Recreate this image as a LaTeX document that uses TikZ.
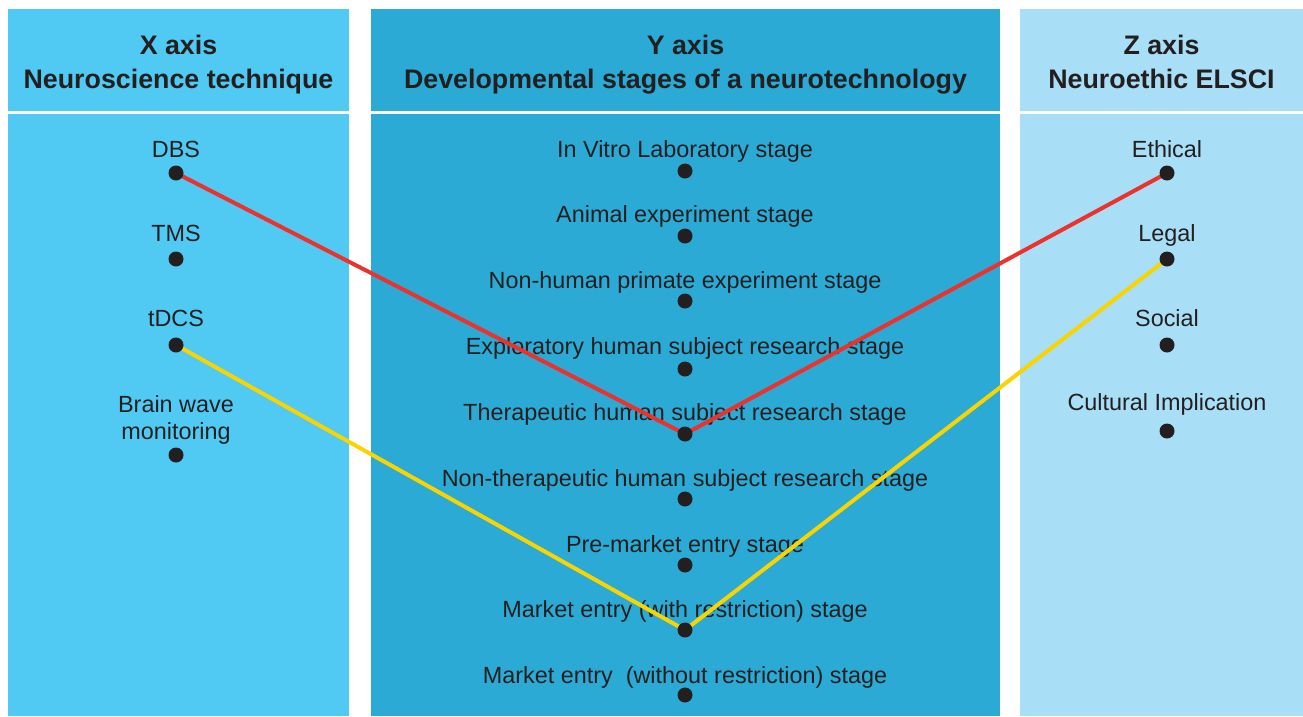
\documentclass[tikz,border=0pt]{standalone}
\usepackage{fontspec}
\setmainfont{Liberation Sans}

\definecolor{xcol}{RGB}{80,201,243}
\definecolor{ycol}{RGB}{42,170,213}
\definecolor{zcol}{RGB}{168,223,246}
\definecolor{ink}{RGB}{35,31,32}
\definecolor{redline}{RGB}{236,50,45}
\definecolor{yellowline}{RGB}{250,212,0}

\tikzset{
  dot/.style={circle,fill=ink,inner sep=0pt,minimum size=15pt},
  lbl/.style={font=\fontsize{23.4}{27}\selectfont,text=ink,inner sep=0pt,align=center,anchor=base},
  head/.style={font=\fontsize{26.8}{34}\selectfont\bfseries,text=ink,inner sep=0pt,align=center,anchor=base},
  path1/.style={draw=redline,line width=4pt},
  path2/.style={draw=yellowline,line width=4pt},
}

\begin{document}
\begin{tikzpicture}[x=1pt,y=-1pt]
\useasboundingbox (0,0) rectangle (1303,716);

% X axis column
\fill[xcol] (8,9) rectangle (349,111);
\fill[xcol] (8,114) rectangle (349,716);
\node[head] (xhead) at (178.5,88) {X axis\\Neuroscience technique};

% Y axis column
\fill[ycol] (371,9) rectangle (1000,111);
\fill[ycol] (371,114) rectangle (1000,716);
\node[head] (yhead) at (685.5,88) {Y axis\\Developmental stages of a neurotechnology};

% Z axis column
\fill[zcol] (1020,9) rectangle (1303,111);
\fill[zcol] (1020,114) rectangle (1303,716);
\node[head] (zhead) at (1161.5,88) {Z axis\\Neuroethic ELSCI};

% techniques
\node[lbl] (dbslbl) at (176,157) {DBS};
\node[lbl] (tmslbl) at (176,241) {TMS};
\node[lbl] (tdcslbl) at (176,326) {tDCS};
\node[lbl] (bwmlbl) at (176,439) {Brain wave\\monitoring};

% stages
\node[lbl] (s1lbl) at (685,157) {In Vitro Laboratory stage};
\node[lbl] (s2lbl) at (685,222) {Animal experiment stage};
\node[lbl] (s3lbl) at (685,288) {Non-human primate experiment stage};
\node[lbl] (s4lbl) at (685,354) {Exploratory human subject research stage};
\node[lbl] (s5lbl) at (685,420) {Therapeutic human subject research stage};
\node[lbl] (s6lbl) at (685,486) {Non-therapeutic human subject research stage};
\node[lbl] (s7lbl) at (685,552) {Pre-market entry stage};
\node[lbl] (s8lbl) at (685,617) {Market entry (with restriction) stage};
\node[lbl] (s9lbl) at (685,683) {Market entry \ (without restriction) stage};

% ELSCI
\node[lbl] (ethlbl) at (1167,157) {Ethical};
\node[lbl] (leglbl) at (1167,241) {Legal};
\node[lbl] (soclbl) at (1167,326) {Social};
\node[lbl] (cullbl) at (1167,410) {Cultural Implication};

% dots
\coordinate (dbs) at (176,173);
\coordinate (tms) at (176,259);
\coordinate (tdcs) at (176,345);
\coordinate (bwm) at (176,455);

\coordinate (s1) at (685,171);
\coordinate (s2) at (685,236);
\coordinate (s3) at (685,301);
\coordinate (s4) at (685,369);
\coordinate (s5) at (685,434);
\coordinate (s6) at (685,499);
\coordinate (s7) at (685,565);
\coordinate (s8) at (685,630);
\coordinate (s9) at (685,695);

\coordinate (eth) at (1167,173);
\coordinate (leg) at (1167,259);
\coordinate (soc) at (1167,345);
\coordinate (cul) at (1167,431);

% DBS -- therapeutic -- ethical
\draw[path1] (dbs) -- (s5) -- (eth);

% tDCS -- market entry -- legal
\draw[path2] (tdcs) -- (s8) -- (leg);

\foreach \p in {dbs,tms,tdcs,bwm,s1,s2,s3,s4,s5,s6,s7,s8,s9,eth,leg,soc,cul}
  \node[dot] (\p dot) at (\p) {};

\end{tikzpicture}
\end{document}
